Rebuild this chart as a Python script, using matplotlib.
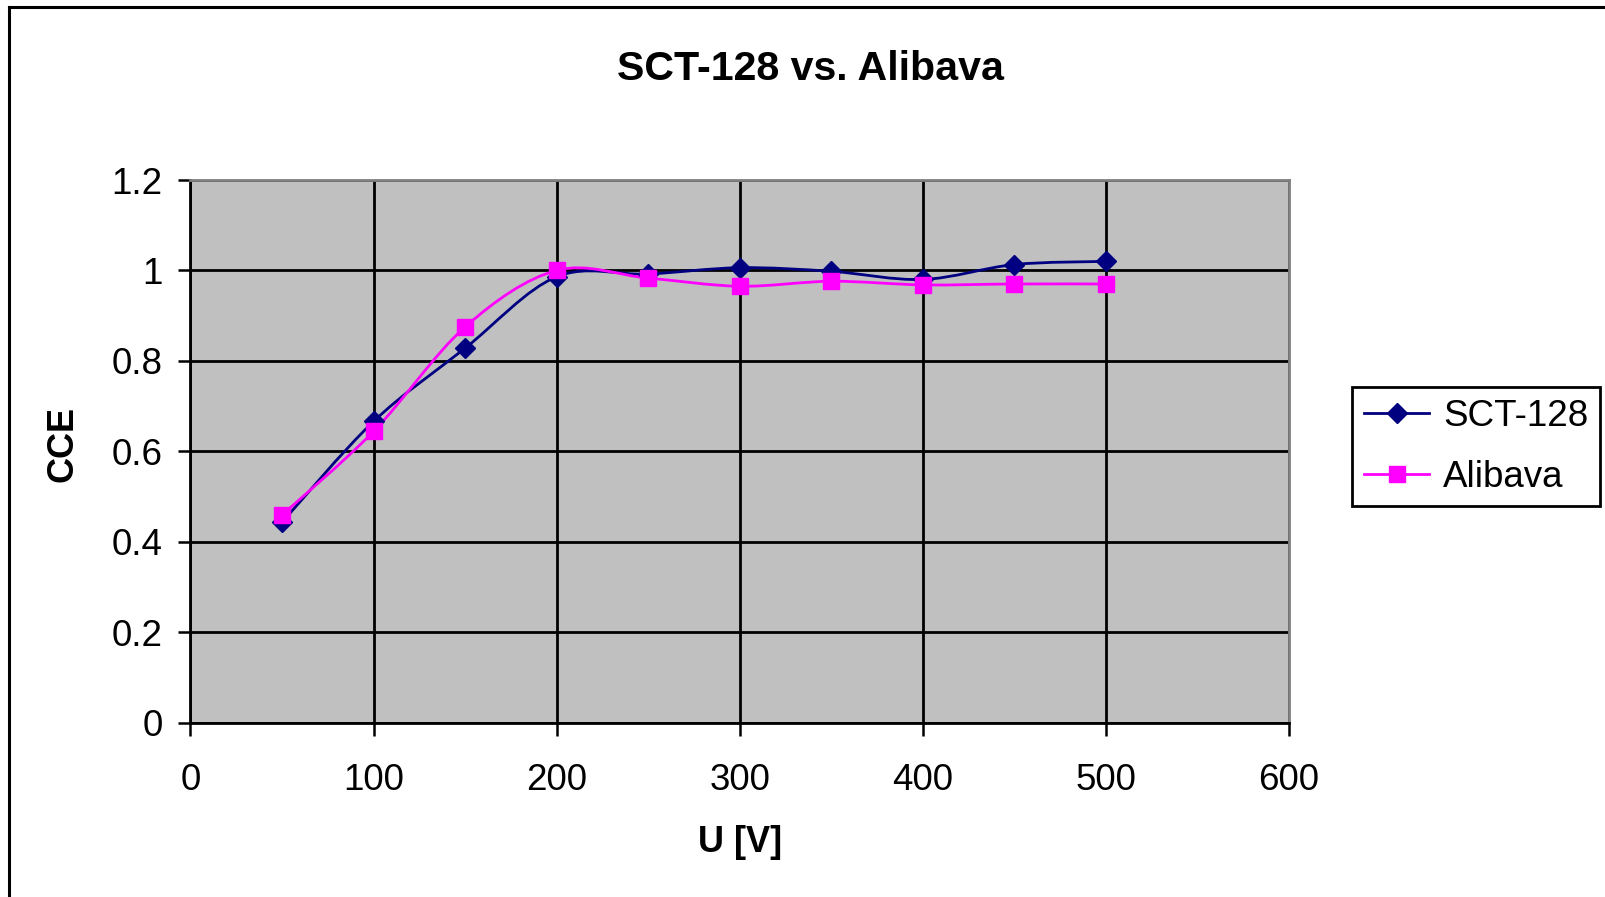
"""
"""

import numpy as np
import matplotlib.pyplot as plt
from matplotlib.path import Path
from matplotlib.patches import PathPatch
from matplotlib.lines import Line2D

# Data
voltage = [50, 100, 150, 200, 250, 300, 350, 400, 450, 500]
cce_sct128 = [0.443, 0.666, 0.828, 0.986, 0.992, 1.006, 0.998, 0.980, 1.013, 1.020]
cce_alibava = [0.459, 0.644, 0.875, 1.000, 0.983, 0.965, 0.976, 0.968, 0.970, 0.970]

x_ticks = [0, 100, 200, 300, 400, 500, 600]
y_ticks = [0, 0.2, 0.4, 0.6, 0.8, 1, 1.2]
y_labels = ['0', '0.2', '0.4', '0.6', '0.8', '1', '1.2']


def _smooth_path(x, y):
    """
    """

    # Catmull-Rom segments written as cubic Bezier curves (Excel style smoothing)
    pts = np.column_stack([x, y]).astype(float)
    padded = np.vstack([pts[0], pts, pts[-1]])

    verts = [tuple(pts[0])]
    codes = [Path.MOVETO]

    for i in range(1, len(padded) - 2):
        p0, p1, p2, p3 = padded[i - 1], padded[i], padded[i + 1], padded[i + 2]
        c1 = p1 + (p2 - p0) / 6
        c2 = p2 - (p3 - p1) / 6
        verts += [tuple(c1), tuple(c2), tuple(p2)]
        codes += [Path.CURVE4] * 3

    return Path(verts, codes)


plt.rcParams['font.family'] = ['Liberation Sans', 'DejaVu Sans']

W, H = 1606, 897
fig = plt.figure(figsize=(W / 100, H / 100), dpi=100)
ax = fig.add_axes([190.5 / W, 1 - 722.5 / H, 1098.5 / W, 542.5 / H])

ax.set_facecolor('#c0c0c0')
ax.set_xlim(0, 600)
ax.set_ylim(0, 1.2)

# Grid
ax.set_xticks(x_ticks)
ax.set_yticks(y_ticks)
ax.set_yticklabels(y_labels)
ax.grid(True, color='black', linewidth=2.0)
ax.set_axisbelow(True)

# Spines
for side in ['top', 'right']:
    ax.spines[side].set_color('#808080')
    ax.spines[side].set_linewidth(2)
for side in ['left', 'bottom']:
    ax.spines[side].set_color('black')
    ax.spines[side].set_linewidth(2)

ax.tick_params(axis='both', direction='out', length=9, width=1.8, labelsize=26.5, colors='black')
ax.tick_params(axis='x', pad=20)
ax.tick_params(axis='y', pad=11)

# Smoothed lines plus markers
series = [
    (cce_sct128, '#000080', 'D', 10, 'SCT-128'),
    (cce_alibava, '#ff00ff', 's', 11, 'Alibava'),
]

handles = []
for values, color, marker, size, name in series:
    ax.add_patch(PathPatch(_smooth_path(voltage, values), facecolor='none',
                           edgecolor=color, linewidth=2.0, zorder=3))
    ax.plot(voltage, values, linestyle='none', marker=marker, markersize=size,
            color=color, zorder=4, clip_on=False)
    handles.append(Line2D([], [], color=color, linewidth=2.0, marker=marker,
                          markersize=size, label=name))

# Axis titles and chart title
fig.text(740.5 / W, 1 - 842 / H, 'U [V]', fontsize=26, fontweight='bold',
         ha='center', va='center')
fig.text(63.5 / W, 1 - 443.5 / H, 'CCE', fontsize=26, fontweight='bold',
         ha='center', va='center', rotation=90)
fig.text(811 / W, 1 - 68.5 / H, 'SCT-128 vs. Alibava', fontsize=29.6,
         fontweight='bold', ha='center', va='center')

leg = fig.legend(handles=handles, loc='upper left',
                 bbox_to_anchor=(1352 / W, 1 - 387 / H), borderaxespad=0,
                 fontsize=26.5, frameon=True, fancybox=False, framealpha=1,
                 handlelength=1.78, handletextpad=0.38, borderpad=0.32,
                 labelspacing=0.7)
leg.get_frame().set_edgecolor('black')
leg.get_frame().set_linewidth(2)

# Outer chart border (left and top edges visible)
fig.add_artist(Line2D([9.5 / W, 9.5 / W], [0, 1 - 7.5 / H],
                      transform=fig.transFigure, color='black', linewidth=2.2))
fig.add_artist(Line2D([9.5 / W, 1], [1 - 7.5 / H, 1 - 7.5 / H],
                      transform=fig.transFigure, color='black', linewidth=2.2))

fig.savefig('out.png', dpi=100)
